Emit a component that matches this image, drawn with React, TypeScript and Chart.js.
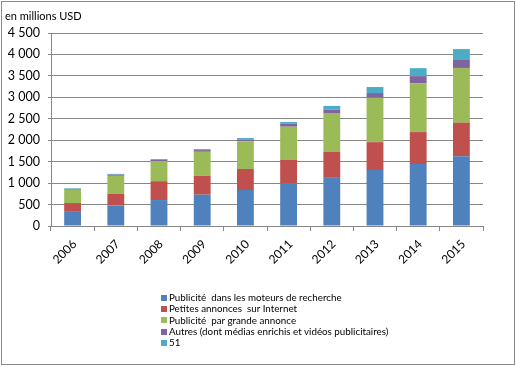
import React, { useEffect, useRef } from "react";
import { Chart, registerables } from "chart.js";

Chart.register(...registerables);

const years = ["2006", "2007", "2008", "2009", "2010", "2011", "2012", "2013", "2014", "2015"];
const searchAds = [330, 480, 605, 730, 840, 1000, 1140, 1305, 1445, 1625];
const classifieds = [205, 270, 440, 440, 490, 540, 585, 650, 745, 785];
const displayAds = [310, 420, 470, 560, 645, 775, 895, 1035, 1140, 1275];
const others = [20, 28, 30, 40, 45, 70, 95, 110, 165, 185];
const series51 = [13, 17, 17, 23, 30, 40, 85, 140, 185, 255];
const yTicks = [0, 500, 1000, 1500, 2000, 2500, 3000, 3500, 4000, 4500];

const seriesNames = [
  "Publicité  dans les moteurs de recherche",
  "Petites annonces  sur Internet",
  "Publicité  par grande annonce",
  "Autres (dont médias enrichis et vidéos publicitaires)",
  "51",
];
const seriesColors = ["#4F81BD", "#C0504D", "#9BBB59", "#8064A2", "#4BACC6"];
const seriesData = [searchAds, classifieds, displayAds, others, series51];

const FONT = "Lato, 'Open Sans', sans-serif";

export default function App() {
  const ref = useRef<HTMLCanvasElement | null>(null);

  useEffect(() => {
    document.body.style.margin = "0";
    const canvas = ref.current;
    if (!canvas) return;
    const borderPlugin = {
      id: "outerBorder",
      afterDraw(chart: any) {
        const ctx = chart.ctx;
        ctx.save();
        ctx.strokeStyle = "#8a8a8a";
        ctx.lineWidth = 1;
        ctx.strokeRect(1.5, 1.5, 513, 363);
        ctx.restore();
      },
    };
    const chart = new Chart(canvas, {
      type: "bar",
      data: {
        labels: years,
        datasets: seriesData.map((d, i) => ({
          label: seriesNames[i],
          data: d,
          backgroundColor: seriesColors[i],
          borderWidth: 0,
          barPercentage: 0.39,
          categoryPercentage: 1,
        })),
      },
      options: {
        responsive: false,
        animation: false,
        layout: { padding: { left: 2, right: 33, top: 33, bottom: 0 } },
        plugins: {
          legend: { display: false },
          title: { display: false },
          tooltip: { enabled: false },
        },
        scales: {
          x: {
            stacked: true,
            offset: true,
            grid: {
              display: true,
              drawOnChartArea: false,
              offset: true,
              color: "#868686",
              tickLength: 5,
            },
            border: { display: true, color: "#868686" },
            ticks: {
              minRotation: 45,
              maxRotation: 45,
              color: "#000",
              font: { family: FONT, size: 12 },
              padding: 6,
              labelOffset: 2,
            },
            afterFit(scale: any) {
              scale.height = 141;
            },
          },
          y: {
            stacked: true,
            min: 0,
            max: 4500,
            afterBuildTicks(scale: any) {
              scale.ticks = yTicks.map((v) => ({ value: v }));
            },
            grid: { color: "#868686", tickLength: 3 },
            border: { display: true, color: "#868686" },
            ticks: {
              color: "#000",
              font: { family: FONT, size: 12.5 },
              padding: 8,
              callback: (v: any) => Number(v).toLocaleString("fr-FR").replace(/\s/g, " "),
            },
            afterFit(scale: any) {
              scale.width = 49;
            },
          },
        },
      },
      plugins: [borderPlugin],
    });
    return () => chart.destroy();
  }, []);

  return (
    <div style={{ position: "relative", width: 516, height: 367, background: "#fff" }}>
      <canvas ref={ref} width={516} height={367} style={{ display: "block" }} />
      <div
        style={{
          position: "absolute",
          left: 5,
          top: 9,
          fontFamily: FONT,
          fontSize: 11,
          color: "#000",
        }}
      >
        en millions USD
      </div>
      <div
        style={{
          position: "absolute",
          left: 161,
          top: 292,
          fontFamily: FONT,
          fontSize: 9.8,
          lineHeight: "11.3px",
          color: "#000",
        }}
      >
        {seriesNames.map((n, i) => (
          <div key={n} style={{ display: "flex", alignItems: "center", whiteSpace: "pre" }}>
            <span
              style={{
                display: "inline-block",
                width: 6,
                height: 6,
                background: seriesColors[i],
                marginRight: 2,
              }}
            />
            {n}
          </div>
        ))}
      </div>
    </div>
  );
}
